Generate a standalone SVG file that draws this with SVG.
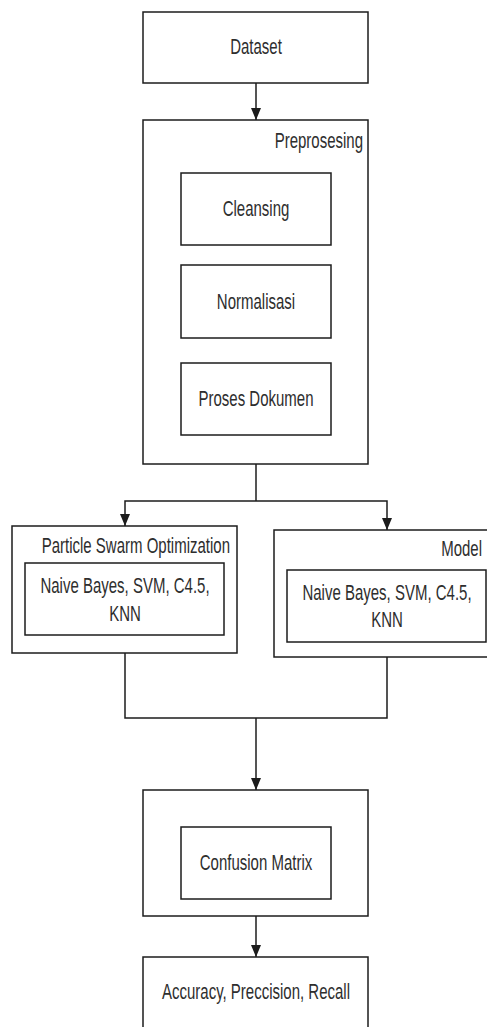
<svg xmlns="http://www.w3.org/2000/svg" width="487" height="1027" viewBox="0 0 487 1027">
  <style>
    .box { fill: #ffffff; stroke: #1c1c1c; stroke-width: 1.5; }
    .edge { fill: none; stroke: #1c1c1c; stroke-width: 1.5; }
    .lbl { font-family: "Liberation Sans", Arial, sans-serif; font-size: 15px; fill: #2e2e2e; }
    .mid { text-anchor: middle; }
    .end { text-anchor: end; }
  </style>
  <defs>
    <marker id="arrow" viewBox="0 0 12 10" refX="12" refY="5" markerWidth="12" markerHeight="10" orient="auto" markerUnits="userSpaceOnUse">
      <path d="M0,0 L12,5 L0,10 Z" fill="#1c1c1c"/>
    </marker>
  </defs>
  <rect width="487" height="1027" fill="#ffffff"/>

  <!-- connectors -->
  <g id="connectors">
    <line class="edge" x1="256" y1="83" x2="256" y2="120" marker-end="url(#arrow)"/>
    <polyline class="edge" points="256,464 256,501"/>
    <polyline class="edge" points="256,501 125,501 125,526" marker-end="url(#arrow)"/>
    <polyline class="edge" points="256,501 387,501 387,530" marker-end="url(#arrow)"/>
    <polyline class="edge" points="125,653 125,718 387,718 387,657"/>
    <line class="edge" x1="256" y1="718" x2="256" y2="790" marker-end="url(#arrow)"/>
    <line class="edge" x1="256" y1="916" x2="256" y2="957" marker-end="url(#arrow)"/>
  </g>

  <g id="dataset">
    <rect class="box" x="143" y="12" width="225" height="71"/>
    <text class="lbl mid" transform="translate(256,54) scale(1,1.45)">Dataset</text>
  </g>

  <g id="preprosesing">
    <rect class="box" x="143" y="120" width="225" height="344"/>
    <text class="lbl end" transform="translate(363,148) scale(1,1.45)">Preprosesing</text>
  </g>

  <g id="cleansing">
    <rect class="box" x="181" y="173" width="150" height="72"/>
    <text class="lbl mid" transform="translate(256,216) scale(1,1.45)">Cleansing</text>
  </g>

  <g id="normalisasi">
    <rect class="box" x="181" y="265" width="150" height="73"/>
    <text class="lbl mid" transform="translate(256,309) scale(1,1.45)">Normalisasi</text>
  </g>

  <g id="proses-dokumen">
    <rect class="box" x="181" y="363" width="150" height="72"/>
    <text class="lbl mid" transform="translate(256,406) scale(1,1.45)">Proses Dokumen</text>
  </g>

  <g id="pso">
    <rect class="box" x="12" y="526" width="225" height="127"/>
    <text class="lbl end" transform="translate(230,553) scale(1,1.45)">Particle Swarm Optimization</text>
  </g>

  <g id="pso-classifiers">
    <rect class="box" x="25" y="563" width="199" height="72"/>
    <text class="lbl mid" transform="translate(125,593) scale(1,1.45)">Naive Bayes, SVM, C4.5,</text>
    <text class="lbl mid" transform="translate(125,621) scale(1,1.45)">KNN</text>
  </g>

  <g id="model">
    <rect class="box" x="274" y="530" width="230" height="127"/>
    <text class="lbl end" transform="translate(482,556) scale(1,1.45)">Model</text>
  </g>

  <g id="model-classifiers">
    <rect class="box" x="287" y="570" width="199" height="72"/>
    <text class="lbl mid" transform="translate(387,600) scale(1,1.45)">Naive Bayes, SVM, C4.5,</text>
    <text class="lbl mid" transform="translate(387,627) scale(1,1.45)">KNN</text>
  </g>

  <g id="evaluation">
    <rect class="box" x="143" y="790" width="225" height="126"/>
  </g>

  <g id="confusion-matrix">
    <rect class="box" x="181" y="827" width="150" height="72"/>
    <text class="lbl mid" transform="translate(256,870) scale(1,1.45)">Confusion Matrix</text>
  </g>

  <g id="metrics">
    <rect class="box" x="143" y="957" width="225" height="90"/>
    <text class="lbl mid" transform="translate(256,999) scale(1,1.45)">Accuracy, Preccision, Recall</text>
  </g>
</svg>
